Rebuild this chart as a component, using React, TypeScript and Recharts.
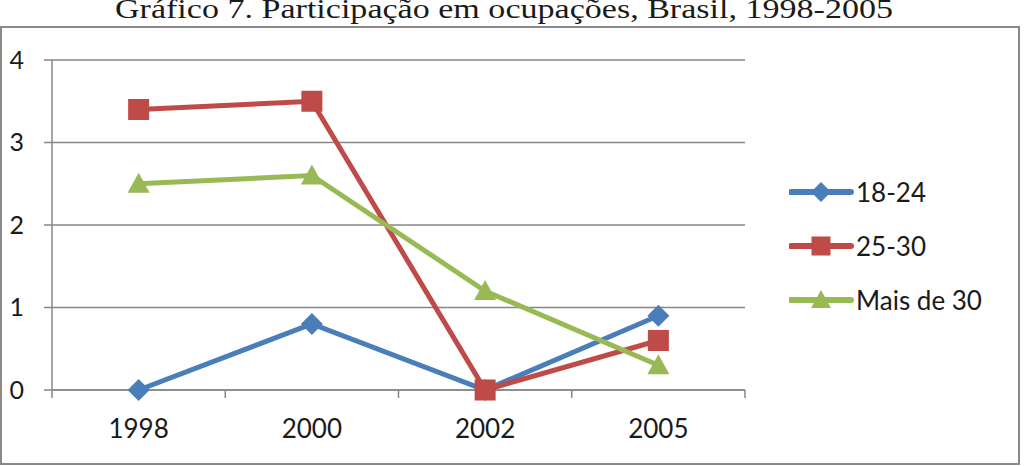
import React from "react";
import { LineChart, Line, XAxis, YAxis, CartesianGrid, Legend } from "recharts";

const years = ["1998", "2000", "2002", "2005"];
const jovens = [0, 0.8, 0, 0.9];
const adultos = [3.4, 3.5, 0, 0.6];
const maisDe30 = [2.5, 2.6, 1.2, 0.3];
const yTicks = [0, 1, 2, 3, 4];

const BLUE = "#4a7ebb";
const RED = "#be4b48";
const GREEN = "#98b954";
const GRID = "#878787";
const FONT = "Lato, 'Open Sans', sans-serif";

const data = years.map((year, i) => ({
  idx: i,
  year,
  a: jovens[i],
  b: adultos[i],
  c: maisDe30[i],
}));

// tick values: boundaries get a tick mark, centers get the year
const xTicks = [-0.5, 0, 0.5, 1, 1.5, 2, 2.5, 3, 3.5];

const marker = (shape: string, cx: number, cy: number, color: string, r = 11) => {
  if (shape === "diamond")
    return (
      <polygon
        points={`${cx},${cy - r} ${cx + r},${cy} ${cx},${cy + r} ${cx - r},${cy}`}
        fill={color}
      />
    );
  if (shape === "square")
    return <rect x={cx - r + 0.5} y={cy - r + 0.5} width={2 * r - 1} height={2 * r - 1} fill={color} />;
  return (
    <polygon
      points={`${cx},${cy - r} ${cx + r},${cy + r - 2} ${cx - r},${cy + r - 2}`}
      fill={color}
    />
  );
};

const makeDot = (shape: string, color: string) => (props: any) => {
  const { cx, cy, index } = props;
  return <g key={`${shape}-${index}`}>{marker(shape, cx, cy, color)}</g>;
};

const XTick = (props: any) => {
  const { x, y, payload } = props;
  const v = payload.value;
  if (Math.abs(v % 1) === 0.5) {
    return <line x1={x} x2={x} y1={y - 8} y2={y} stroke={GRID} strokeWidth={1.5} />;
  }
  return (
    <text x={x} y={y + 40} textAnchor="middle" fill="#1a1a1a" fontSize={26} fontFamily={FONT}>
      {years[v]}
    </text>
  );
};

const shapes: Record<string, string> = { "18-24": "diamond", "25-30": "square", "Mais de 30": "triangle" };

const LegendBox = ({ payload }: any) => (
  <div>
    {(payload || []).map((p: any) => (
      <div key={p.value} style={{ display: "flex", alignItems: "center", height: 54 }}>
        <svg width={66} height={26} style={{ display: "block" }}>
          <line x1={2} x2={62} y1={13} y2={13} stroke={p.color} strokeWidth={6} strokeLinecap="round" />
          {marker(shapes[p.value], 32, 13, p.color, 10)}
        </svg>
        <span style={{ fontFamily: FONT, fontSize: 26, color: "#1a1a1a", marginLeft: 1, lineHeight: "26px" }}>
          {p.value}
        </span>
      </div>
    ))}
  </div>
);

export default function App() {
  return (
    <div style={{ position: "absolute", left: 0, top: 0, width: 1029, height: 466, background: "#fff", overflow: "hidden" }}>
      <svg width={1029} height={30} style={{ position: "absolute", left: 0, top: 0 }}>
        <text
          x={115}
          y={18}
          fontFamily="'Liberation Serif', serif"
          fontSize={27}
          fill="#1a1a1a"
          textLength={778}
          lengthAdjust="spacingAndGlyphs"
        >
          Gráfico 7. Participação em ocupações, Brasil, 1998-2005
        </text>
      </svg>
      <div
        style={{
          position: "absolute",
          left: 0,
          top: 26,
          width: 1016,
          height: 435,
          border: "2px solid #8a8a8a",
        }}
      />
      <div style={{ position: "absolute", left: 0, top: 0 }}>
        <LineChart width={1029} height={466} data={data} margin={{ top: 60, right: 284, bottom: 36, left: 8 }}>
          <CartesianGrid vertical={false} stroke={GRID} strokeWidth={1.5} />
          <XAxis
            dataKey="idx"
            type="number"
            domain={[-0.5, 3.5]}
            ticks={xTicks}
            interval={0}
            tickLine={false}
            tickSize={8}
            tickMargin={0}
            height={40}
            stroke={GRID}
            strokeWidth={1.5}
            tick={<XTick />}
          />
          <YAxis
            domain={[0, 4]}
            ticks={yTicks}
            width={44}
            tickSize={8}
            tickMargin={20}
            stroke={GRID}
            strokeWidth={1.5}
            tick={{ fill: "#1a1a1a", fontSize: 25, fontFamily: FONT }}
          />
          <Legend
            layout="vertical"
            align="center"
            verticalAlign="middle"
            wrapperStyle={{ left: 789, top: 165, width: 230 }}
            content={<LegendBox />}
          />
          <Line
            dataKey="a"
            name="18-24"
            stroke={BLUE}
            strokeWidth={5}
            dot={makeDot("diamond", BLUE)}
            isAnimationActive={false}
          />
          <Line
            dataKey="b"
            name="25-30"
            stroke={RED}
            strokeWidth={5}
            dot={makeDot("square", RED)}
            isAnimationActive={false}
          />
          <Line
            dataKey="c"
            name="Mais de 30"
            stroke={GREEN}
            strokeWidth={5}
            dot={makeDot("triangle", GREEN)}
            isAnimationActive={false}
          />
        </LineChart>
      </div>
    </div>
  );
}
